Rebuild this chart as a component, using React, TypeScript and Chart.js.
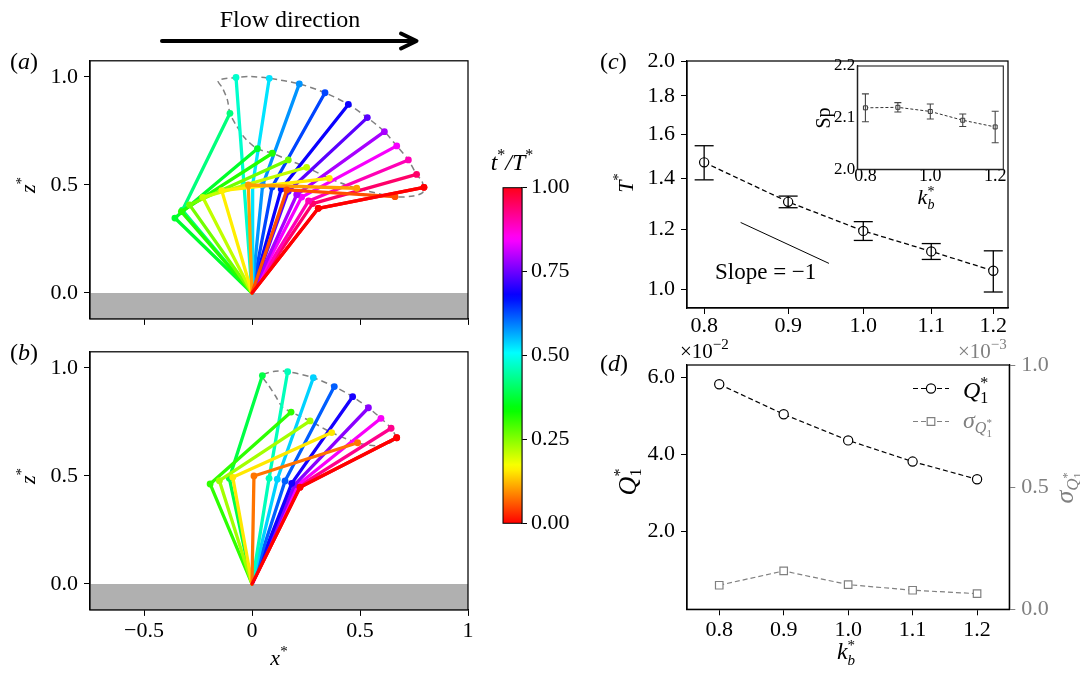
import React, { useEffect, useRef } from 'react';
import { Chart, registerables } from 'chart.js';
Chart.register(...registerables);

const W = 1080;
const H = 673;
const SERIF = "'Liberation Serif', 'Times New Roman', Times, serif";
Chart.defaults.font.family = SERIF;

// ---------------- panel (a): snapshots t/T = k/19 ----------------
const BASE_X = 0;
const BASE_Y = 0;
const A_T = [0, 0.053, 0.105, 0.158, 0.211, 0.263, 0.316, 0.368, 0.421, 0.474, 0.526, 0.579, 0.632, 0.684, 0.737, 0.789, 0.842, 0.895, 0.947, 1.0];
const A_JOINT_X = [0.307, 0.161, -0.017, -0.14, -0.228, -0.289, -0.327, -0.357, -0.322, -0.037, 0.003, 0.049, 0.093, 0.135, 0.168, 0.207, 0.23, 0.262, 0.281, 0.307];
const A_JOINT_Y = [0.392, 0.477, 0.5, 0.474, 0.443, 0.408, 0.377, 0.347, 0.383, 0.499, 0.5, 0.498, 0.491, 0.481, 0.471, 0.455, 0.444, 0.426, 0.414, 0.392];
const A_TIP_X = [0.796, 0.662, 0.485, 0.358, 0.253, 0.168, 0.094, 0.025, -0.102, -0.074, 0.08, 0.219, 0.338, 0.446, 0.534, 0.613, 0.67, 0.724, 0.762, 0.796];
const A_TIP_Y = [0.489, 0.446, 0.485, 0.531, 0.582, 0.616, 0.647, 0.668, 0.832, 0.998, 0.994, 0.968, 0.927, 0.873, 0.812, 0.747, 0.681, 0.616, 0.549, 0.489];
const A_PATH_X = [0.796, 0.785, 0.762, 0.724, 0.67, 0.613, 0.534, 0.446, 0.338, 0.219, 0.08, -0.009, -0.074, -0.156, -0.136, -0.114, -0.102, -0.074, -0.032, 0.025, 0.094, 0.168, 0.253, 0.358, 0.485, 0.662, 0.747, 0.79, 0.796];
const A_PATH_Y = [0.489, 0.521, 0.549, 0.616, 0.681, 0.747, 0.812, 0.873, 0.927, 0.968, 0.994, 1.002, 0.998, 0.983, 0.948, 0.894, 0.832, 0.778, 0.716, 0.668, 0.647, 0.616, 0.582, 0.531, 0.485, 0.446, 0.449, 0.465, 0.489];

// ---------------- panel (b): snapshots t/T = k/13 ----------------
const B_T = [0, 0.077, 0.154, 0.231, 0.308, 0.385, 0.462, 0.538, 0.615, 0.692, 0.769, 0.846, 0.923, 1.0];
const B_JOINT_X = [0.222, 0.009, -0.089, -0.151, -0.194, -0.105, 0.079, 0.117, 0.153, 0.184, 0.198, 0.207, 0.215, 0.222];
const B_JOINT_Y = [0.448, 0.5, 0.494, 0.478, 0.463, 0.489, 0.489, 0.485, 0.477, 0.466, 0.46, 0.455, 0.451, 0.448];
const B_TIP_X = [0.67, 0.489, 0.369, 0.269, 0.181, 0.048, 0.165, 0.284, 0.381, 0.466, 0.539, 0.597, 0.644, 0.67];
const B_TIP_Y = [0.677, 0.654, 0.701, 0.755, 0.796, 0.965, 0.983, 0.955, 0.914, 0.867, 0.816, 0.767, 0.721, 0.677];
const B_PATH_X = [0.67, 0.644, 0.597, 0.539, 0.466, 0.381, 0.284, 0.165, 0.106, 0.048, 0.076, 0.111, 0.139, 0.181, 0.269, 0.369, 0.489, 0.577, 0.639, 0.67];
const B_PATH_Y = [0.677, 0.721, 0.767, 0.816, 0.867, 0.914, 0.955, 0.983, 0.985, 0.965, 0.921, 0.867, 0.821, 0.796, 0.755, 0.701, 0.654, 0.64, 0.654, 0.677];

const XY_X_TICKS = [-0.5, 0, 0.5, 1];
const XY_X_LABELS = ['\u22120.5', '0', '0.5', '1'];
const XY_Y_TICKS = [0, 0.5, 1];
const GROUND_LEVEL = 0;

// ---------------- colorbar ----------------
const CB_TICKS = [0, 0.25, 0.5, 0.75, 1.0];
const CB_RANGE = [0, 1];

// ---------------- panel (c) ----------------
const KB = [0.8, 0.9, 1.0, 1.1, 1.2];
const T_VALUES = [1.471, 1.305, 1.195, 1.123, 1.059];
const T_ERR = [0.076, 0.023, 0.034, 0.027, 0.066];
const C_X_TICKS = [0.8, 0.9, 1.0, 1.1, 1.2];
const C_Y_TICKS = [1.0, 1.2, 1.4, 1.6, 1.8, 2.0];
const SLOPE_X = [0.842, 0.953];
const SLOPE_Y = [1.226, 1.083];

// ---------------- inset ----------------
const SP_VALUES = [2.119, 2.12, 2.112, 2.095, 2.082];
const SP_ERR = [0.027, 0.009, 0.0145, 0.012, 0.0305];
const I_X_TICKS = [0.8, 1.0, 1.2];
const I_Y_TICKS = [2.0, 2.1, 2.2];

// ---------------- panel (d) ----------------
const Q1_VALUES = [0.0582, 0.0504, 0.0436, 0.0381, 0.0335];
const SIGMA_Q1 = [0.0000985, 0.000157, 0.000101, 0.000078, 0.000064];
const D_X_TICKS = [0.8, 0.9, 1.0, 1.1, 1.2];
const D_Y_TICKS = [0.02, 0.04, 0.06];
const D_Y2_TICKS = [0, 0.0005, 0.001];

// ---------------- matplotlib 'hsv' colormap ----------------
const HSV_R = [[0, 1], [0.15873, 1], [0.174603, 0.96875], [0.333333, 0.03125], [0.349206, 0], [0.666667, 0], [0.68254, 0.03125], [0.84127, 0.96875], [0.857143, 1], [1, 1]];
const HSV_G = [[0, 0], [0.15873, 0.9375], [0.174603, 1], [0.507937, 1], [0.666667, 0.0625], [0.68254, 0], [1, 0]];
const HSV_B = [[0, 0], [0.333333, 0], [0.349206, 0.0625], [0.507937, 1], [0.84127, 1], [0.857143, 0.9375], [1, 0.09375]];
const CB_STOPS = [0, 0.15873, 0.174603, 0.333333, 0.349206, 0.507937, 0.666667, 0.68254, 0.84127, 0.857143, 1];

function interp(seg: number[][], t: number) {
  for (let i = 1; i < seg.length; i++) {
    if (t <= seg[i][0]) {
      const [x0, y0] = seg[i - 1];
      const [x1, y1] = seg[i];
      return y0 + ((y1 - y0) * (t - x0)) / (x1 - x0);
    }
  }
  return seg[seg.length - 1][1];
}
function hsv(t: number) {
  const r = Math.round(255 * interp(HSV_R, t));
  const g = Math.round(255 * interp(HSV_G, t));
  const b = Math.round(255 * interp(HSV_B, t));
  return `rgb(${r},${g},${b})`;
}

// ---------------- layout helpers ----------------
type Box = { left: number; top: number; right: number; bottom: number };
const BOX_A: Box = { left: 90, top: 60.8, right: 468, bottom: 318.9 };
const BOX_B: Box = { left: 90, top: 351.8, right: 468, bottom: 609.9 };
const BOX_CB: Box = { left: 503, top: 187.7, right: 522, bottom: 523.3 };
const BOX_C: Box = { left: 687, top: 61, right: 1008, bottom: 308 };
const BOX_I: Box = { left: 857.3, top: 66, right: 1003.3, bottom: 169.3 };
const BOX_D: Box = { left: 687, top: 365, right: 1009.3, bottom: 609.3 };

function layoutFor(b: Box, lw: number, bh: number, rw = 0) {
  return {
    autoPadding: false,
    padding: { left: b.left - lw, top: b.top, right: W - b.right - rw, bottom: H - b.bottom - bh },
  };
}
const zeroPad = (s: any) => {
  s.paddingLeft = 0;
  s.paddingRight = 0;
  s.paddingTop = 0;
  s.paddingBottom = 0;
};

function axis(o: any) {
  const vertical = o.position === 'left' || o.position === 'right';
  const color = o.color ?? '#000';
  return {
    type: o.type ?? 'linear',
    position: o.position,
    min: o.min,
    max: o.max,
    display: true,
    afterBuildTicks: (s: any) => {
      s.ticks = o.ticks.map((v: number) => ({ value: v }));
    },
    afterFit: (s: any) => {
      if (vertical) s.width = o.fit;
      else s.height = o.fit;
      zeroPad(s);
    },
    grid: {
      display: true,
      drawOnChartArea: false,
      drawTicks: o.drawTicks ?? true,
      tickLength: o.tickLen ?? 6,
      tickWidth: 1,
      tickColor: color,
      color,
    },
    border: { display: true, color: o.borderColor ?? '#000', width: 1.25 },
    ticks: {
      display: o.labels ?? true,
      autoSkip: false,
      maxRotation: 0,
      minRotation: 0,
      padding: o.pad ?? 6,
      color,
      font: { family: SERIF, size: o.size ?? 22 },
      callback: (v: any) => o.fmt(Number(v)),
    },
  };
}

function framePlugin(color = '#000', width = 1.25) {
  return {
    id: 'frame',
    afterDraw(chart: any) {
      const a = chart.chartArea;
      const ctx = chart.ctx;
      ctx.save();
      ctx.strokeStyle = color;
      ctx.lineWidth = width;
      ctx.setLineDash([]);
      ctx.strokeRect(a.left, a.top, a.right - a.left, a.bottom - a.top);
      ctx.restore();
    },
  };
}

// ---------------- rich text labels ----------------
type Seg = { t: string; it?: boolean; s?: number; dy?: number; c?: string; na?: boolean };
type Label = { segs: Seg[]; x: number; y: number; size: number; color?: string; align?: 'left' | 'center'; rot?: boolean };
const fontOf = (it: boolean | undefined, size: number) => `${it ? 'italic ' : ''}${size}px ${SERIF}`;

function drawLabel(ctx: CanvasRenderingContext2D, L: Label) {
  ctx.save();
  ctx.translate(L.x, L.y);
  if (L.rot) ctx.rotate(-Math.PI / 2);
  ctx.textBaseline = 'alphabetic';
  ctx.textAlign = 'left';
  const widths = L.segs.map((sg) => {
    ctx.font = fontOf(sg.it, sg.s ?? L.size);
    return ctx.measureText(sg.t).width;
  });
  let total = 0;
  L.segs.forEach((sg, i) => {
    if (!sg.na) total += widths[i];
  });
  let cx = L.align === 'center' ? -total / 2 : 0;
  L.segs.forEach((sg, i) => {
    ctx.font = fontOf(sg.it, sg.s ?? L.size);
    ctx.fillStyle = sg.c ?? L.color ?? '#000';
    ctx.fillText(sg.t, cx, sg.dy ?? 0);
    if (!sg.na) cx += widths[i];
  });
  ctx.restore();
}
function labelsPlugin(id: string, labels: Label[], extra?: (ctx: CanvasRenderingContext2D) => void) {
  return {
    id,
    afterDraw(chart: any) {
      const ctx = chart.ctx as CanvasRenderingContext2D;
      if (extra) extra(ctx);
      labels.forEach((l) => drawLabel(ctx, l));
    },
  };
}

const STAR = (s: number, dy: number): Seg => ({ t: '*', s, dy });
const GRAY = '#808080';

// ---------------- filament panels ----------------
function filamentConfig(box: Box, T: number[], JX: number[], JY: number[], TX: number[], TY: number[], PX: number[], PY: number[], showXLabels: boolean, bh: number, labels: Label[], extra?: (ctx: CanvasRenderingContext2D) => void) {
  const snapshots = T.map((t, i) => {
    const c = hsv(t);
    return {
      data: [
        { x: BASE_X, y: BASE_Y },
        { x: JX[i], y: JY[i] },
        { x: TX[i], y: TY[i] },
      ],
      borderColor: c,
      backgroundColor: c,
      borderWidth: 3.3,
      borderCapStyle: 'round',
      borderJoinStyle: 'round',
      pointRadius: [0, 3.4, 3.4],
      pointBorderWidth: 0,
      pointBackgroundColor: c,
      tension: 0,
      fill: false,
    };
  });
  const path = {
    data: PX.map((x, i) => ({ x, y: PY[i] })),
    borderColor: GRAY,
    borderWidth: 1.5,
    borderDash: [6, 4],
    pointRadius: 0,
    tension: 0.3,
    fill: false,
  };
  const ground = {
    data: [
      { x: -0.75, y: GROUND_LEVEL },
      { x: 1.0, y: GROUND_LEVEL },
    ],
    borderColor: 'rgba(0,0,0,0)',
    borderWidth: 0,
    backgroundColor: '#b0b0b0',
    pointRadius: 0,
    fill: 'start',
  };
  return {
    type: 'line',
    data: { datasets: [...snapshots, path, ground] },
    options: {
      responsive: false,
      animation: false,
      devicePixelRatio: 1,
      layout: layoutFor(box, 90, bh),
      plugins: { legend: { display: false }, tooltip: { enabled: false } },
      scales: {
        x: axis({ position: 'bottom', min: -0.75, max: 1.0, ticks: XY_X_TICKS, fmt: (v: number) => XY_X_LABELS[XY_X_TICKS.indexOf(v)] ?? '', fit: bh, pad: 2, labels: showXLabels }),
        y: axis({ position: 'left', min: -0.12, max: 1.075, ticks: XY_Y_TICKS, fmt: (v: number) => v.toFixed(1), fit: 90, pad: 6 }),
      },
    },
    plugins: [framePlugin(), labelsPlugin('lab' + box.top, labels, extra)],
  };
}

const drawArrow = (ctx: CanvasRenderingContext2D) => {
  ctx.save();
  ctx.strokeStyle = '#000';
  ctx.lineWidth = 4;
  ctx.lineCap = 'round';
  ctx.lineJoin = 'round';
  ctx.beginPath();
  ctx.moveTo(162, 41);
  ctx.lineTo(415, 41);
  ctx.stroke();
  ctx.beginPath();
  ctx.moveTo(401, 33.5);
  ctx.lineTo(416.5, 41);
  ctx.lineTo(401, 48.5);
  ctx.stroke();
  ctx.restore();
};

const LABELS_A: Label[] = [
  { segs: [{ t: 'Flow direction' }], x: 290, y: 27, size: 24, align: 'center' },
  { segs: [{ t: '(' }, { t: 'a', it: true }, { t: ')' }], x: 10, y: 69, size: 24 },
  { segs: [{ t: 'z', it: true }, STAR(15, -9)], x: 35, y: 185, size: 22, align: 'center', rot: true },
];
const LABELS_B: Label[] = [
  { segs: [{ t: '(' }, { t: 'b', it: true }, { t: ')' }], x: 10, y: 360, size: 24 },
  { segs: [{ t: 'z', it: true }, STAR(15, -9)], x: 35, y: 476, size: 22, align: 'center', rot: true },
  { segs: [{ t: 'x', it: true }, STAR(15, -9)], x: 279, y: 665, size: 22, align: 'center' },
];

// ---------------- colorbar ----------------
function colorbarConfig() {
  return {
    type: 'bar',
    data: {
      labels: [''],
      datasets: [
        {
          data: [CB_RANGE],
          borderWidth: 0,
          barPercentage: 1,
          categoryPercentage: 1,
          backgroundColor: (c: any) => {
            const a = c.chart.chartArea;
            if (!a) return '#f00';
            const g = c.chart.ctx.createLinearGradient(0, a.bottom, 0, a.top);
            CB_STOPS.forEach((s) => g.addColorStop(s, hsv(s)));
            return g;
          },
        },
      ],
    },
    options: {
      responsive: false,
      animation: false,
      devicePixelRatio: 1,
      layout: { autoPadding: false, padding: { left: BOX_CB.left, top: BOX_CB.top, right: W - BOX_CB.right - 70, bottom: H - BOX_CB.bottom } },
      plugins: { legend: { display: false }, tooltip: { enabled: false } },
      scales: {
        x: { display: false },
        y: axis({ position: 'right', min: 0, max: 1, ticks: CB_TICKS, fmt: (v: number) => v.toFixed(2), fit: 70, pad: 4, tickLen: 5 }),
      },
    },
    plugins: [
      framePlugin('#000', 1),
      labelsPlugin('labcb', [
        { segs: [{ t: 't', it: true }, STAR(16, -10), { t: '/', it: true }, { t: 'T', it: true }, STAR(16, -10)], x: 512, y: 170, size: 24, align: 'center' },
      ]),
    ],
  };
}

// ---------------- panel (c) ----------------
function errorBarSets(xs: number[], ys: number[], errs: number[], color: string, width: number, cap: number) {
  return xs.map((x, i) => ({
    data: [
      { x, y: ys[i] - errs[i] },
      { x, y: ys[i] + errs[i] },
    ],
    borderColor: color,
    borderWidth: width,
    pointStyle: 'line',
    pointRadius: cap,
    pointBorderWidth: width,
    pointBorderColor: color,
    pointBackgroundColor: color,
    tension: 0,
    fill: false,
  }));
}

function panelCConfig() {
  return {
    type: 'line',
    data: {
      datasets: [
        ...errorBarSets(KB, T_VALUES, T_ERR, '#000', 1.3, 9.5),
        {
          data: KB.map((x, i) => ({ x, y: T_VALUES[i] })),
          borderColor: '#000',
          borderWidth: 1.3,
          borderDash: [5, 3],
          pointStyle: 'circle',
          pointRadius: 4.6,
          pointBorderWidth: 1.2,
          pointBorderColor: '#000',
          pointBackgroundColor: '#fff',
          tension: 0,
          fill: false,
        },
        {
          data: SLOPE_X.map((x, i) => ({ x, y: SLOPE_Y[i] })),
          borderColor: '#000',
          borderWidth: 1,
          pointRadius: 0,
          tension: 0,
          fill: false,
        },
      ],
    },
    options: {
      responsive: false,
      animation: false,
      devicePixelRatio: 1,
      layout: layoutFor(BOX_C, 80, 40),
      plugins: { legend: { display: false }, tooltip: { enabled: false } },
      scales: {
        x: axis({ type: 'logarithmic', position: 'bottom', min: 0.781, max: 1.225, ticks: C_X_TICKS, fmt: (v: number) => v.toFixed(1), fit: 40, pad: -1 }),
        y: axis({ type: 'logarithmic', position: 'left', min: 0.946, max: 2.0, ticks: C_Y_TICKS, fmt: (v: number) => v.toFixed(1), fit: 80, pad: 6 }),
      },
    },
    plugins: [
      framePlugin(),
      labelsPlugin('labc', [
        { segs: [{ t: '(' }, { t: 'c', it: true }, { t: ')' }], x: 600, y: 69, size: 24 },
        { segs: [{ t: 'T', it: true }, STAR(15, -10)], x: 633, y: 183, size: 22, align: 'center', rot: true },
        { segs: [{ t: 'Slope = \u22121' }], x: 715, y: 279, size: 23 },
      ]),
    ],
  };
}

// ---------------- inset ----------------
function insetConfig() {
  const ink = '#333';
  return {
    type: 'line',
    data: {
      datasets: [
        ...errorBarSets(KB, SP_VALUES, SP_ERR, '#444', 1.1, 3.5),
        {
          data: KB.map((x, i) => ({ x, y: SP_VALUES[i] })),
          borderColor: ink,
          borderWidth: 1,
          borderDash: [3, 2],
          pointStyle: 'rect',
          pointRadius: 2.8,
          pointBorderWidth: 1,
          pointBorderColor: ink,
          pointBackgroundColor: '#fff',
          tension: 0,
          fill: false,
        },
      ],
    },
    options: {
      responsive: false,
      animation: false,
      devicePixelRatio: 1,
      layout: layoutFor(BOX_I, 40, 25),
      plugins: { legend: { display: false }, tooltip: { enabled: false } },
      scales: {
        x: axis({ position: 'bottom', min: 0.775, max: 1.225, ticks: I_X_TICKS, fmt: (v: number) => v.toFixed(1), fit: 25, pad: -4, drawTicks: false, size: 18, borderColor: '#222' }),
        y: axis({ position: 'left', min: 2.0, max: 2.2, ticks: I_Y_TICKS, fmt: (v: number) => v.toFixed(1), fit: 40, pad: 2, drawTicks: false, size: 17, borderColor: '#222' }),
      },
    },
    plugins: [
      framePlugin('#222', 1.1),
      labelsPlugin('labi', [
        { segs: [{ t: 'Sp' }], x: 830, y: 118, size: 20, align: 'center', rot: true },
        { segs: [{ t: 'k', it: true }, { t: 'b', it: true, s: 14, dy: 5, na: true }, STAR(14, -8)], x: 926, y: 204, size: 22, align: 'center' },
      ]),
    ],
  };
}

// ---------------- panel (d) ----------------
const drawLegendD = (ctx: CanvasRenderingContext2D) => {
  const entries = [
    { y: 388.5, color: '#000', square: false },
    { y: 421.5, color: GRAY, square: true },
  ];
  entries.forEach((e) => {
    ctx.save();
    ctx.strokeStyle = e.color;
    ctx.lineWidth = 1.2;
    ctx.setLineDash([5, 3]);
    ctx.beginPath();
    ctx.moveTo(913, e.y);
    ctx.lineTo(949, e.y);
    ctx.stroke();
    ctx.setLineDash([]);
    ctx.fillStyle = '#fff';
    ctx.beginPath();
    if (e.square) ctx.rect(931 - 3.8, e.y - 3.8, 7.6, 7.6);
    else ctx.arc(931, e.y, 4.6, 0, Math.PI * 2);
    ctx.fill();
    ctx.stroke();
    ctx.restore();
  });
};

function panelDConfig() {
  return {
    type: 'line',
    data: {
      datasets: [
        {
          data: KB.map((x, i) => ({ x, y: Q1_VALUES[i] })),
          yAxisID: 'y',
          borderColor: '#000',
          borderWidth: 1.2,
          borderDash: [5, 3],
          pointStyle: 'circle',
          pointRadius: 4.6,
          pointBorderWidth: 1.2,
          pointBorderColor: '#000',
          pointBackgroundColor: '#fff',
          tension: 0,
          fill: false,
        },
        {
          data: KB.map((x, i) => ({ x, y: SIGMA_Q1[i] })),
          yAxisID: 'y2',
          borderColor: GRAY,
          borderWidth: 1.2,
          borderDash: [5, 3],
          pointStyle: 'rect',
          pointRadius: 5.3,
          pointBorderWidth: 1.2,
          pointBorderColor: GRAY,
          pointBackgroundColor: '#fff',
          tension: 0,
          fill: false,
        },
      ],
    },
    options: {
      responsive: false,
      animation: false,
      devicePixelRatio: 1,
      layout: layoutFor(BOX_D, 80, 40, 70),
      plugins: { legend: { display: false }, tooltip: { enabled: false } },
      scales: {
        x: axis({ position: 'bottom', min: 0.75, max: 1.25, ticks: D_X_TICKS, fmt: (v: number) => v.toFixed(1), fit: 40, pad: 2 }),
        y: axis({ position: 'left', min: -0.0003, max: 0.0632, ticks: D_Y_TICKS, fmt: (v: number) => (v * 100).toFixed(1), fit: 80, pad: 6 }),
        y2: axis({ position: 'right', min: 0, max: 0.001, ticks: D_Y2_TICKS, fmt: (v: number) => (v * 1000).toFixed(1), fit: 70, pad: 6, color: GRAY }),
      },
    },
    plugins: [
      framePlugin(),
      labelsPlugin(
        'labd',
        [
          { segs: [{ t: '(' }, { t: 'd', it: true }, { t: ')' }], x: 600, y: 371, size: 24 },
          { segs: [{ t: '\u00d710' }, { t: '\u22122', s: 15, dy: -9 }], x: 680, y: 358, size: 21 },
          { segs: [{ t: '\u00d710' }, { t: '\u22123', s: 15, dy: -9 }], x: 958, y: 358, size: 21, color: GRAY },
          { segs: [{ t: 'Q', it: true }, { t: '1', s: 16, dy: 5, na: true }, STAR(16, -11)], x: 636, y: 482, size: 26, align: 'center', rot: true },
          { segs: [{ t: '\u03c3', it: true }, { t: 'Q', it: true, s: 17, dy: 5 }, { t: '1', s: 12, dy: 9, na: true }, { t: '*', s: 12, dy: -2 }], x: 1073, y: 488, size: 26, align: 'center', rot: true, color: GRAY },
          { segs: [{ t: 'k', it: true }, { t: 'b', it: true, s: 15, dy: 6, na: true }, STAR(15, -9)], x: 846, y: 659, size: 24, align: 'center' },
          { segs: [{ t: 'Q', it: true }, { t: '1', s: 16, dy: 5, na: true }, STAR(16, -10)], x: 963, y: 398, size: 24 },
          { segs: [{ t: '\u03c3', it: true }, { t: 'Q', it: true, s: 16, dy: 5 }, { t: '1', s: 11, dy: 9, na: true }, { t: '*', s: 11, dy: -2 }], x: 963, y: 428, size: 24, color: GRAY },
        ],
        drawLegendD
      ),
    ],
  };
}

export default function App() {
  const r0 = useRef<HTMLCanvasElement>(null);
  const r1 = useRef<HTMLCanvasElement>(null);
  const r2 = useRef<HTMLCanvasElement>(null);
  const r3 = useRef<HTMLCanvasElement>(null);
  const r4 = useRef<HTMLCanvasElement>(null);
  const r5 = useRef<HTMLCanvasElement>(null);
  const refs = [r0, r1, r2, r3, r4, r5];

  useEffect(() => {
    const configs: any[] = [
      filamentConfig(BOX_A, A_T, A_JOINT_X, A_JOINT_Y, A_TIP_X, A_TIP_Y, A_PATH_X, A_PATH_Y, false, 30, LABELS_A, drawArrow),
      filamentConfig(BOX_B, B_T, B_JOINT_X, B_JOINT_Y, B_TIP_X, B_TIP_Y, B_PATH_X, B_PATH_Y, true, 40, LABELS_B),
      colorbarConfig(),
      panelCConfig(),
      insetConfig(),
      panelDConfig(),
    ];
    const charts = configs.map((cfg, i) => new Chart(refs[i].current as HTMLCanvasElement, cfg));
    return () => charts.forEach((c) => c.destroy());
  }, []);

  return (
    <div style={{ position: 'absolute', left: 0, top: 0, width: W, height: H, background: '#fff', overflow: 'hidden' }}>
      {refs.map((r, i) => (
        <canvas key={i} ref={r} width={W} height={H} style={{ position: 'absolute', left: 0, top: 0, width: W, height: H }} />
      ))}
    </div>
  );
}
